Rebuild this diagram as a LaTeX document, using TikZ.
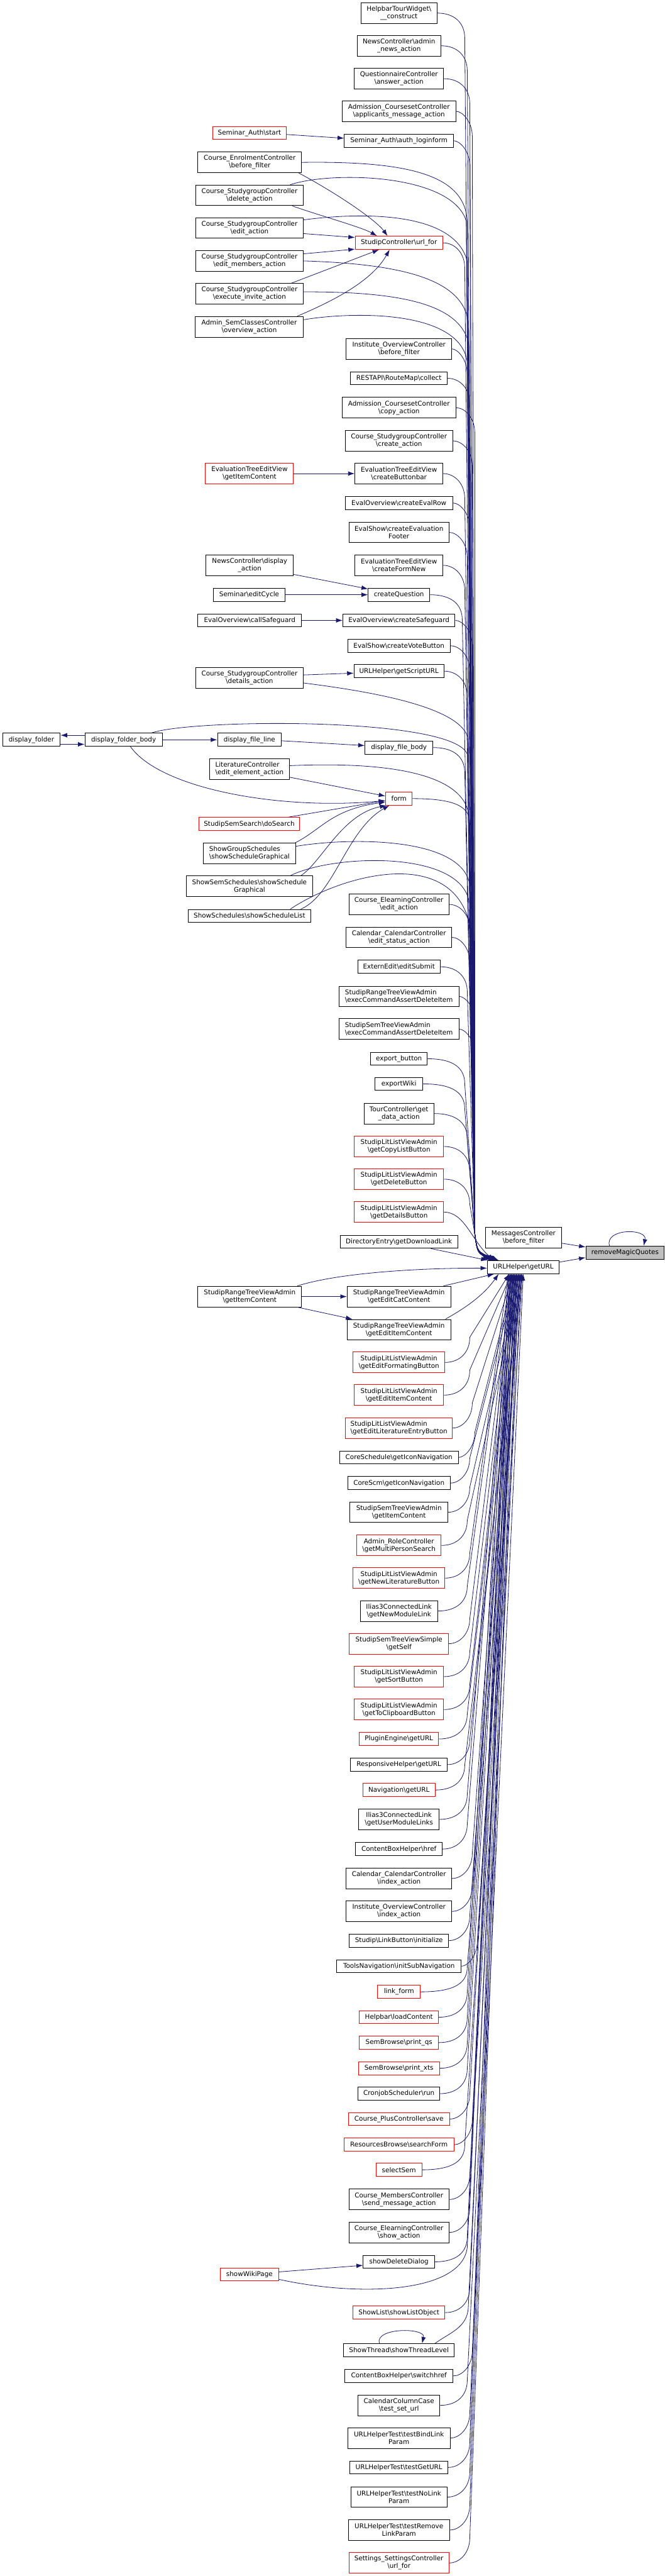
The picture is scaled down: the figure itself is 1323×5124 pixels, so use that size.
\documentclass[tikz,border=0pt]{standalone}
\usepackage{fontspec}
\setmainfont{DejaVu Sans}
\usetikzlibrary{arrows.meta}
\definecolor{dxblue}{RGB}{25,25,112}
\definecolor{dxred}{RGB}{255,0,0}
\definecolor{dxgray}{RGB}{191,191,191}
\newcommand\dxf{\fontsize{13}{15}\selectfont}
\newcommand\dxbs{\textbackslash}
\tikzset{
  fn/.style={draw=black, line width=1.2pt, fill=white, font=\dxf, align=center, inner xsep=4pt, inner ysep=2pt, minimum height=26pt},
  fl/.style={fn, align=left},
  two/.style={minimum height=41pt},
  rd/.style={draw=dxred},
  cx/.style={draw=dxblue, line width=1pt, -{Latex[length=13pt,width=9pt]}},
}
\newcommand\dxdn[4]{\draw[cx] (#1.east) .. controls (#2-20,#3) and (#2,#3+20) .. (#2,#3+50) -- (945,2455) .. controls (950,2490) .. ([xshift=#4pt]U.north west);}
\newcommand\dxup[4]{\draw[cx] (#1.east) .. controls (#2-20,#3) and (#2,#3-20) .. (#2,#3-50) -- ([xshift=#4pt]U.south west);}
\begin{document}
\begin{tikzpicture}[x=1pt,y=-1pt]
\fill[white] (0,0) rectangle (1323,5124);
\useasboundingbox (0,0) rectangle (1323,5124);

% ---------- right column, above getURL
\node[fn,two,minimum width=151pt] (hbtw) at (794,26) {HelpbarTourWidget\dxbs\\\_\_construct};
\node[fn,two,minimum width=166pt] (newsadm) at (794,91) {NewsController\dxbs admin\\\_news\_action};
\node[fn,two,minimum width=178pt] (quest) at (794,156.5) {QuestionnaireController\\\dxbs answer\_action};
\node[fn,two,minimum width=227pt] (admappl) at (794,221.5) {Admission\_CoursesetController\\\dxbs applicants\_message\_action};
\node[fn,minimum width=217pt] (authlogin) at (794,280) {Seminar\_Auth\dxbs auth\_loginform};
\node[fn,rd,minimum width=174pt] (urlfor) at (794,483) {StudipController\dxbs url\_for};
\node[fn,two,minimum width=210pt] (instbf) at (794,694) {Institute\_OverviewController\\\dxbs before\_filter};
\node[fn,minimum width=193pt] (restapi) at (794,752.5) {RESTAPI\dxbs RouteMap\dxbs collect};
\node[fn,two,minimum width=227pt] (admcopy) at (794,811) {Admission\_CoursesetController\\\dxbs copy\_action};
\node[fn,two,minimum width=214pt] (sgcreate) at (794,877) {Course\_StudygroupController\\\dxbs create\_action};
\node[fn,two,minimum width=175pt] (etebar) at (794,942) {EvaluationTreeEditView\\\dxbs createButtonbar};
\node[fn,minimum width=214pt] (evalrow) at (794,1000.5) {EvalOverview\dxbs createEvalRow};
\node[fn,two,minimum width=199pt] (evfooter) at (794,1059) {EvalShow\dxbs createEvaluation\\Footer};
\node[fn,two,minimum width=175pt] (eteform) at (794,1124.5) {EvaluationTreeEditView\\\dxbs createFormNew};
\node[fn,minimum width=122pt] (createq) at (794,1183) {createQuestion};
\node[fn,minimum width=223pt] (safeg) at (794,1234) {EvalOverview\dxbs createSafeguard};
\node[fn,minimum width=204pt] (vote) at (794,1284.5) {EvalShow\dxbs createVoteButton};
\node[fn,minimum width=179pt] (script) at (794,1335) {URLHelper\dxbs getScriptURL};
\node[fn,minimum width=135pt] (fbody) at (794,1487) {display\_file\_body};
\node[fn,rd,minimum width=53pt] (form) at (794,1588.5) {form};
\node[fn,two,minimum width=199pt] (eledit) at (794,1799) {Course\_ElearningController\\\dxbs edit\_action};
\node[fn,two,minimum width=210pt] (caledit) at (794,1864.5) {Calendar\_CalendarController\\\dxbs edit\_status\_action};
\node[fn,minimum width=164pt] (extern) at (794,1923) {ExternEdit\dxbs editSubmit};
\node[fl,two,minimum width=239pt] (rangeexec) at (794,1982) {StudipRangeTreeViewAdmin\\\dxbs execCommandAssertDeleteItem};
\node[fl,two,minimum width=239pt] (semexec) at (794,2047) {StudipSemTreeViewAdmin\\\dxbs execCommandAssertDeleteItem};
\node[fn,minimum width=113pt] (expbtn) at (794,2106) {export\_button};
\node[fn,minimum width=95pt] (expwiki) at (794,2156) {exportWiki};
\node[fn,two,minimum width=139pt] (tour) at (794,2215) {TourController\dxbs get\\\_data\_action};
\node[fn,rd,two,minimum width=178pt] (litcopy) at (794,2280.5) {StudipLitListViewAdmin\\\dxbs getCopyListButton};
\node[fn,rd,two,minimum width=178pt] (litdel) at (794,2345.5) {StudipLitListViewAdmin\\\dxbs getDeleteButton};
\node[fn,rd,two,minimum width=178pt] (litdet) at (794,2411) {StudipLitListViewAdmin\\\dxbs getDetailsButton};
\node[fn,minimum width=234pt] (dirent) at (794,2470) {DirectoryEntry\dxbs getDownloadLink};

% ---------- central
\node[fn,two,minimum width=152pt] (msgbf) at (1042,2462) {MessagesController\\\dxbs before\_filter};
\node[fn,minimum width=156pt,fill=dxgray] (rmq) at (1244,2491.5) {removeMagicQuotes};
\node[fn,minimum width=143pt] (U) at (1041.5,2520.5) {URLHelper\dxbs getURL};

% ---------- left column
\node[fn,rd,minimum width=147pt] (authstart) at (496.5,264.5) {Seminar\_Auth\dxbs start};
\node[fn,two,minimum width=206pt] (enrol) at (497,323) {Course\_EnrolmentController\\\dxbs before\_filter};
\node[fn,two,minimum width=213pt] (sgdel) at (496.5,388.5) {Course\_StudygroupController\\\dxbs delete\_action};
\node[fn,two,minimum width=213pt] (sgedit) at (496.5,453.5) {Course\_StudygroupController\\\dxbs edit\_action};
\node[fn,two,minimum width=213pt] (sgem) at (496.5,519) {Course\_StudygroupController\\\dxbs edit\_members\_action};
\node[fn,two,minimum width=213pt] (sginv) at (496.5,584.5) {Course\_StudygroupController\\\dxbs execute\_invite\_action};
\node[fn,two,minimum width=216pt] (semc) at (496,650) {Admin\_SemClassesController\\\dxbs overview\_action};
\node[fn,rd,two,minimum width=175pt] (eteitem) at (496.5,942) {EvaluationTreeEditView\\\dxbs getItemContent};
\node[fn,two,minimum width=174pt] (newsdisp) at (497,1124.5) {NewsController\dxbs display\\\_action};
\node[fn,minimum width=142pt] (editcycle) at (496,1183) {Seminar\dxbs editCycle};
\node[fn,minimum width=206pt] (callsafe) at (497,1234) {EvalOverview\dxbs callSafeguard};
\node[fn,two,minimum width=213pt] (sgdet) at (496.5,1348.5) {Course\_StudygroupController\\\dxbs details\_action};
\node[fn,minimum width=115pt] (folder) at (62.5,1471.5) {display\_folder};
\node[fn,minimum width=154pt] (fb) at (246,1471.5) {display\_folder\_body};
\node[fn,minimum width=127pt] (fline) at (496.5,1471.5) {display\_file\_line};
\node[fl,two,minimum width=159pt] (litedit) at (496.5,1530) {LiteratureController\\\dxbs edit\_element\_action};
\node[fn,rd,minimum width=200pt] (dosearch) at (496,1639) {StudipSemSearch\dxbs doSearch};
\node[fl,two,minimum width=183pt] (gs) at (496.5,1697.5) {ShowGroupSchedules\\\dxbs showScheduleGraphical};
\node[fn,two,minimum width=251pt] (ss) at (496.5,1763) {ShowSemSchedules\dxbs showSchedule\\Graphical};
\node[fn,minimum width=243pt] (sl) at (496.5,1822) {ShowSchedules\dxbs showScheduleList};
\node[fn,two,minimum width=206pt] (ri) at (497,2579) {StudipRangeTreeViewAdmin\\\dxbs getItemContent};
\node[fn,rd,minimum width=117pt] (wiki) at (496.5,4524) {showWikiPage};

% ---------- right column, below getURL
\node[fn,two,minimum width=206pt] (rec) at (794,2579) {StudipRangeTreeViewAdmin\\\dxbs getEditCatContent};
\node[fn,two,minimum width=206pt] (rei) at (794,2645) {StudipRangeTreeViewAdmin\\\dxbs getEditItemContent};
\node[fn,rd,two,minimum width=182pt] (litfmt) at (794,2710) {StudipLitListViewAdmin\\\dxbs getEditFormatingButton};
\node[fn,rd,two,minimum width=178pt] (litei) at (794,2775) {StudipLitListViewAdmin\\\dxbs getEditItemContent};
\node[fl,rd,two,minimum width=213pt] (litlit) at (794,2840.5) {StudipLitListViewAdmin\\\dxbs getEditLiteratureEntryButton};
\node[fn,minimum width=236pt] (csicon) at (794,2899) {CoreSchedule\dxbs getIconNavigation};
\node[fn,minimum width=204pt] (scmicon) at (794,2950) {CoreScm\dxbs getIconNavigation};
\node[fn,two,minimum width=195pt] (semitem) at (794,3008) {StudipSemTreeViewAdmin\\\dxbs getItemContent};
\node[fn,rd,two,minimum width=168pt] (role) at (794,3074) {Admin\_RoleController\\\dxbs getMultiPersonSearch};
\node[fn,rd,two,minimum width=183pt] (litnew) at (794,3139) {StudipLitListViewAdmin\\\dxbs getNewLiteratureButton};
\node[fn,two,minimum width=154pt] (iliasnew) at (794,3204.5) {Ilias3ConnectedLink\\\dxbs getNewModuleLink};
\node[fn,rd,two,minimum width=197pt] (simple) at (794,3269.5) {StudipSemTreeViewSimple\\\dxbs getSelf};
\node[fn,rd,two,minimum width=178pt] (litsort) at (794,3335) {StudipLitListViewAdmin\\\dxbs getSortButton};
\node[fn,rd,two,minimum width=178pt] (litclip) at (794,3400.5) {StudipLitListViewAdmin\\\dxbs getToClipboardButton};
\node[fn,rd,minimum width=158pt] (plugin) at (794,3459) {PluginEngine\dxbs getURL};
\node[fn,minimum width=192pt] (resp) at (794,3510) {ResponsiveHelper\dxbs getURL};
\node[fn,rd,minimum width=144pt] (navig) at (794,3560.5) {Navigation\dxbs getURL};
\node[fn,two,minimum width=160pt] (iliasuser) at (794,3619) {Ilias3ConnectedLink\\\dxbs getUserModuleLinks};
\node[fn,minimum width=172pt] (cbhref) at (794,3678) {ContentBoxHelper\dxbs href};
\node[fn,two,minimum width=210pt] (calindex) at (794,3736.5) {Calendar\_CalendarController\\\dxbs index\_action};
\node[fn,two,minimum width=210pt] (instindex) at (794,3802) {Institute\_OverviewController\\\dxbs index\_action};
\node[fn,minimum width=198pt] (linkbtn) at (794,3860) {Studip\dxbs LinkButton\dxbs initialize};
\node[fn,minimum width=248pt] (toolsnav) at (794,3911) {ToolsNavigation\dxbs initSubNavigation};
\node[fn,rd,minimum width=85pt] (linkform) at (794,3962) {link\_form};
\node[fn,rd,minimum width=157pt] (hbload) at (794,4012.5) {Helpbar\dxbs loadContent};
\node[fn,rd,minimum width=157pt] (printqs) at (794,4063) {SemBrowse\dxbs print\_qs};
\node[fn,rd,minimum width=161pt] (printxts) at (794,4114) {SemBrowse\dxbs print\_xts};
\node[fn,minimum width=162pt] (cron) at (794,4164.5) {CronjobScheduler\dxbs run};
\node[fn,rd,minimum width=201pt] (plussave) at (794,4215) {Course\_PlusController\dxbs save};
\node[fn,rd,minimum width=219pt] (ressearch) at (794,4266) {ResourcesBrowse\dxbs searchForm};
\node[fn,rd,minimum width=91pt] (selsem) at (794,4316) {selectSem};
\node[fn,two,minimum width=199pt] (memsend) at (794,4375) {Course\_MembersController\\\dxbs send\_message\_action};
\node[fn,two,minimum width=199pt] (elshow) at (794,4440.5) {Course\_ElearningController\\\dxbs show\_action};
\node[fn,minimum width=142pt] (deldlg) at (794,4499) {showDeleteDialog};
\node[fn,rd,minimum width=183pt] (showlist) at (794,4600) {ShowList\dxbs showListObject};
\node[fn,minimum width=220pt] (thread) at (794,4675) {ShowThread\dxbs showThreadLevel};
\node[fn,minimum width=215pt] (switchhref) at (794,4726) {ContentBoxHelper\dxbs switchhref};
\node[fn,two,minimum width=163pt] (tseturl) at (794,4784.5) {CalendarColumnCase\\\dxbs test\_set\_url};
\node[fn,two,minimum width=204pt] (tbind) at (794,4849.5) {URLHelperTest\dxbs testBindLink\\Param};
\node[fn,minimum width=195pt] (tget) at (794,4908) {URLHelperTest\dxbs testGetURL};
\node[fn,two,minimum width=191pt] (tnolink) at (794,4967) {URLHelperTest\dxbs testNoLink\\Param};
\node[fn,two,minimum width=201pt] (tremove) at (794,5032.5) {URLHelperTest\dxbs testRemove\\LinkParam};
\node[fn,rd,two,minimum width=199pt] (settings) at (794,5098) {Settings\_SettingsController\\\dxbs url\_for};

% ---------- short edges
\draw[cx] ([yshift=-3pt]authstart.east) -- ([yshift=5pt]authlogin.west);
\draw[cx] (eteitem.east) -- (etebar.west);
\draw[cx] ([yshift=3pt]newsdisp.south east) -- ([yshift=-2pt]createq.north west);
\draw[cx] (editcycle.east) -- (createq.west);
\draw[cx] (callsafe.east) -- (safeg.west);
\draw[cx] ([yshift=6pt]sgdet.east) -- ([yshift=-4pt]script.west);
\draw[cx] ([yshift=9pt]fb.west) -- ([yshift=9pt]folder.east);
\draw[cx] ([yshift=-9pt]folder.east) -- ([yshift=-9pt]fb.west);
\draw[cx] (fb.east) -- (fline.west);
\draw[cx] ([yshift=-2pt]fline.east) -- ([yshift=4pt]fbody.west);

% into url_for
\draw[cx] ([xshift=-6pt]enrol.south east) .. controls (680,390) and (750,440) .. ([xshift=65pt]urlfor.north west);
\draw[cx] ([xshift=-22pt]sgdel.south east) .. controls (640,430) and (720,452) .. ([xshift=44pt]urlfor.north west);
\draw[cx] ([yshift=10pt]sgedit.south east) -- ([yshift=-3pt]urlfor.north west);
\draw[cx] ([yshift=-7pt]sgem.north east) -- ([yshift=1pt]urlfor.south west);
\draw[cx] ([xshift=-24pt]sginv.north east) -- ([xshift=48pt]urlfor.south west);
\draw[cx] ([xshift=-13pt]semc.north east) .. controls (660,600) and (740,560) .. ([xshift=69pt]urlfor.south west);

% into form
\draw[cx] ([xshift=-64pt]fb.south east) .. controls (320,1570) and (560,1612) .. ([yshift=-4pt]form.west);
\draw[cx] ([yshift=-16pt]litedit.east) -- ([yshift=5pt]form.west);
\draw[cx] ([xshift=-23pt]dosearch.north east) -- ([yshift=-4pt]form.west);
\draw[cx] ([xshift=-1pt]gs.north east) .. controls (640,1650) and (660,1610) .. ([yshift=-7pt]form.west);
\draw[cx] ([xshift=-24pt]ss.north east) .. controls (640,1715) and (680,1620) .. ([xshift=2pt]form.south west);
\draw[cx] ([xshift=-20pt]sl.north east) .. controls (665,1780) and (690,1650) .. ([xshift=8pt]form.south west);

% range tree
\draw[cx] ([xshift=-9pt]ri.north east) .. controls (680,2530) and (850,2522) .. ([yshift=-2pt]U.west);
\draw[cx] (ri.east) -- (rec.west);
\draw[cx] ([xshift=-9pt]ri.south east) -- ([xshift=11pt]rei.north west);
\draw[cx] ([xshift=-15pt]rec.north east) -- ([xshift=14pt]U.south west);
\draw[cx] ([xshift=-11pt]rei.north east) .. controls (920,2605) and (960,2580) .. ([xshift=23pt]U.south west);

% central
\draw[cx] ([xshift=-54pt]dirent.south east) -- ([xshift=1pt]U.north west);
\draw[cx] ([yshift=-11pt]msgbf.east) -- ([yshift=11pt]rmq.west);
\draw[cx] ([yshift=10pt]U.east) -- ([yshift=-10pt]rmq.west);
\draw[cx] ([xshift=-31pt]rmq.north) .. controls +(-10,-35) and +(8,-35) .. ([xshift=37pt]rmq.north);

% ---------- top group into getURL
\dxdn{hbtw}{925}{26}{4}
\dxdn{newsadm}{930}{91}{6}
\dxdn{quest}{935}{156.5}{8}
\dxdn{admappl}{940}{221.5}{10}
\dxdn{authlogin}{935}{280}{12}
\dxdn{urlfor}{925}{483}{14}
\dxdn{instbf}{930}{694}{5}
\dxdn{restapi}{935}{752.5}{7}
\dxdn{admcopy}{945}{811}{9}
\dxdn{sgcreate}{940}{877}{11}
\dxdn{etebar}{925}{942}{13}
\dxdn{evalrow}{935}{1000.5}{15}
\dxdn{evfooter}{930}{1059}{17}
\dxdn{eteform}{925}{1124.5}{19}
\dxdn{createq}{920}{1183}{21}
\dxdn{safeg}{940}{1234}{6}
\dxdn{vote}{935}{1284.5}{8}
\dxdn{script}{930}{1335}{10}
\dxdn{fbody}{925}{1487}{12}
\dxdn{form}{935}{1588.5}{14}
\dxdn{eledit}{935}{1799}{16}
\dxdn{caledit}{935}{1864.5}{18}
\dxdn{extern}{930}{1923}{20}
\dxdn{rangeexec}{945}{1982}{22}
\dxdn{semexec}{945}{2047}{7}
\dxdn{expbtn}{925}{2106}{9}
\dxdn{expwiki}{925}{2156}{11}
\dxdn{tour}{930}{2215}{13}
\dxdn{litcopy}{935}{2280.5}{15}
\dxdn{litdel}{935}{2345.5}{17}
\draw[cx] (litdet.east) .. controls (925,2411) and (940,2470) .. ([xshift=14pt]U.north west);

% left-column long edges into getURL
\draw[cx] (enrol.east) .. controls (820,320) and (925,350) .. (930,440) -- (945,2455) .. controls (950,2490) .. ([xshift=5pt]U.north west);
\draw[cx] ([xshift=-26pt]sgdel.north east) .. controls (660,340) and (900,345) .. (928,440) -- (945,2455) .. controls (950,2490) .. ([xshift=7pt]U.north west);
\draw[cx] ([yshift=-5pt]sgedit.north east) .. controls (720,422) and (905,420) .. (930,520) -- (945,2455) .. controls (950,2490) .. ([xshift=9pt]U.north west);
\draw[cx] (sgem.east) .. controls (800,525) and (920,555) .. (932,640) -- (945,2455) .. controls (950,2490) .. ([xshift=11pt]U.north west);
\draw[cx] ([yshift=4pt]sginv.east) .. controls (800,580) and (922,605) .. (934,690) -- (945,2455) .. controls (950,2490) .. ([xshift=13pt]U.north west);
\draw[cx] ([yshift=-7pt]semc.north east) .. controls (700,620) and (915,615) .. (930,720) -- (945,2455) .. controls (950,2490) .. ([xshift=15pt]U.north west);
\draw[cx] ([yshift=-10pt]sgdet.east) .. controls (760,1378) and (920,1410) .. (932,1470) -- (945,2455) .. controls (950,2490) .. ([xshift=17pt]U.north west);
\draw[cx] ([xshift=-22pt]fb.north east) .. controls (380,1430) and (900,1425) .. (930,1500) -- (945,2455) .. controls (950,2490) .. ([xshift=19pt]U.north west);
\draw[cx] ([yshift=7pt]litedit.east) .. controls (760,1515) and (920,1535) .. (933,1620) -- (945,2455) .. controls (950,2490) .. ([xshift=21pt]U.north west);
\draw[cx] ([yshift=-7pt]gs.north east) .. controls (700,1665) and (920,1665) .. (935,1760) -- (945,2455) .. controls (950,2490) .. ([xshift=23pt]U.north west);
\draw[cx] ([xshift=-45pt]ss.north east) .. controls (660,1700) and (910,1690) .. (933,1790) -- (945,2455) .. controls (950,2490) .. ([xshift=8pt]U.north west);
\draw[cx] ([xshift=-41pt]sl.north east) .. controls (680,1740) and (900,1680) .. (935,1840) -- (945,2455) .. controls (950,2490) .. ([xshift=10pt]U.north west);

% ---------- bottom group into getURL
\dxup{litfmt}{935}{2710}{44}
\dxup{litei}{935}{2775}{48}
\dxup{litlit}{940}{2840.5}{52}
\dxup{csicon}{945}{2899}{56}
\dxup{scmicon}{935}{2950}{60}
\dxup{semitem}{935}{3008}{64}
\dxup{role}{930}{3074}{68}
\dxup{litnew}{935}{3139}{42}
\dxup{iliasnew}{930}{3204.5}{46}
\dxup{simple}{935}{3269.5}{50}
\dxup{litsort}{935}{3335}{54}
\dxup{litclip}{935}{3400.5}{58}
\dxup{plugin}{930}{3459}{62}
\dxup{resp}{935}{3510}{66}
\dxup{navig}{925}{3560.5}{70}
\dxup{iliasuser}{930}{3619}{44}
\dxup{cbhref}{930}{3678}{48}
\dxup{calindex}{940}{3736.5}{52}
\dxup{instindex}{940}{3802}{56}
\dxup{linkbtn}{935}{3860}{60}
\dxup{toolsnav}{950}{3911}{64}
\dxup{linkform}{930}{3962}{68}
\dxup{hbload}{930}{4012.5}{42}
\dxup{printqs}{930}{4063}{46}
\dxup{printxts}{930}{4114}{50}
\dxup{cron}{930}{4164.5}{54}
\dxup{plussave}{935}{4215}{58}
\dxup{ressearch}{940}{4266}{62}
\dxup{selsem}{925}{4316}{66}
\dxup{memsend}{935}{4375}{70}
\dxup{elshow}{935}{4440.5}{44}
\dxup{deldlg}{930}{4499}{48}
\dxup{showlist}{935}{4600}{56}
\dxup{switchhref}{940}{4726}{64}
\dxup{tseturl}{930}{4784.5}{68}
\dxup{tbind}{935}{4849.5}{72}
\dxup{tget}{935}{4908}{46}
\dxup{tnolink}{935}{4967}{50}
\dxup{tremove}{935}{5032.5}{54}
\dxup{settings}{935}{5098}{58}

% showWikiPage and ShowThread
\draw[cx] ([yshift=5pt]wiki.east) -- ([yshift=-7pt]deldlg.west);
\draw[cx] ([yshift=-10pt]wiki.east) .. controls (720,4570) and (920,4560) .. (930,4470) -- ([xshift=52pt]U.south west);
\draw[cx] ([xshift=-39pt]thread.north east) .. controls (895,4640) and (930,4630) .. (932,4590) -- ([xshift=60pt]U.south west);
\draw[cx] ([xshift=-39pt]thread.north) .. controls +(-10,-32) and +(8,-32) .. ([xshift=46pt]thread.north);
\end{tikzpicture}
\end{document}
